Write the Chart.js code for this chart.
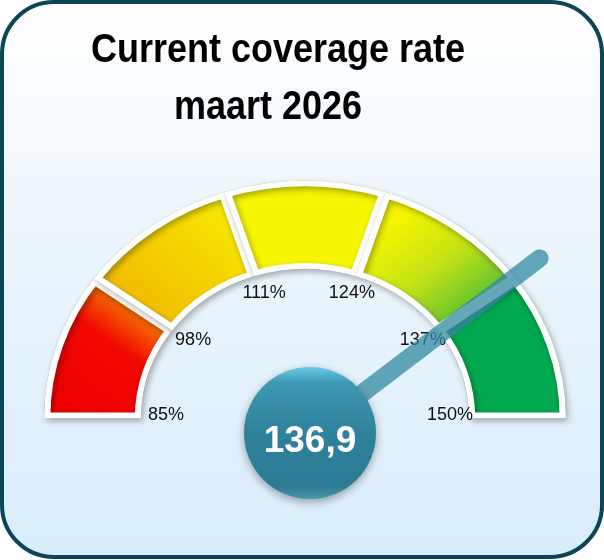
<!DOCTYPE html>
<html>
<head>
<meta charset="utf-8">
<script src="https://cdn.jsdelivr.net/npm/chart.js@4.4.1/dist/chart.umd.min.js"></script>
<style>
  html, body { margin: 0; padding: 0; background: #fff; }
  #wrap { width: 604px; height: 560px; position: relative; }
</style>
</head>
<body>
<div id="wrap"><canvas id="gauge"></canvas></div>
<script>
// Gegevens
const titleLines = ['Current coverage rate', 'maart 2026'];
const tickValues = [85, 98, 111, 124, 137, 150];
const tickLabels = ['85%', '98%', '111%', '124%', '137%', '150%'];
const currentValue = 136.9;
const currentLabel = '136,9';

// segment breedtes uit de grenswaarden
const segmentSizes = tickValues.slice(1).map((v, i) => v - tickValues[i]);

// Vorm en stijl
const SQUASH = 0.91;         // meter is iets platter dan een cirkel
const FONT = '"Liberation Sans", Arial, sans-serif';

function segmentFill(c) {
    const g = c.chart.ctx;
    let grad;
    switch (c.dataIndex) {
        case 0:
            grad = g.createLinearGradient(70, 410, 165, 290);
            grad.addColorStop(0, '#ee0000');
            grad.addColorStop(0.55, '#f20800');
            grad.addColorStop(1, '#f8b000');
            return grad;
        case 1:
            grad = g.createLinearGradient(120, 330, 240, 200);
            grad.addColorStop(0, '#f0b000');
            grad.addColorStop(1, '#f7e800');
            return grad;
        case 2:
            return '#f6f600';
        case 3:
            grad = g.createLinearGradient(390, 205, 495, 330);
            grad.addColorStop(0, '#f6f600');
            grad.addColorStop(0.4, '#c4e314');
            grad.addColorStop(1, '#1fac47');
            return grad;
        default:
            return '#00a94f';
    }
}

// Achtergrond, kader en titel
const framePlugin = {
    id: 'frame',
    beforeDraw(chart) {
        const ctx = chart.ctx;
        ctx.save();
        const bg = ctx.createLinearGradient(0, 0, 0, 560);
        bg.addColorStop(0, '#ffffff');
        bg.addColorStop(0.45, '#ebf5fc');
        bg.addColorStop(1, '#d8edfa');
        ctx.beginPath();
        ctx.roundRect(2, 2, 600, 555, 52);
        ctx.fillStyle = bg;
        ctx.fill();
        ctx.lineWidth = 4;
        ctx.strokeStyle = '#0b4557';
        ctx.stroke();

        ctx.fillStyle = '#000';
        ctx.font = 'bold 36px ' + FONT;
        ctx.textAlign = 'center';
        ctx.textBaseline = 'alphabetic';
        const pos = [[278, 62], [268, 119]];
        titleLines.forEach((t, i) => {
            ctx.save();
            ctx.translate(pos[i][0], pos[i][1]);
            ctx.scale(1, 1.12);
            ctx.fillText(t, 0, 0);
            ctx.restore();
        });
        ctx.restore();
    }
};

// Meter plat drukken + schaduw
const squashPlugin = {
    id: 'squash',
    beforeDatasetsDraw(chart) {
        const arc = chart.getDatasetMeta(0).data[0];
        const ctx = chart.ctx;
        ctx.save();
        ctx.translate(arc.x, arc.y);
        ctx.scale(1, SQUASH);
        ctx.translate(-arc.x, -arc.y);
        ctx.shadowColor = 'rgba(0,0,0,0.32)';
        ctx.shadowBlur = 6;
        ctx.shadowOffsetX = 2;
        ctx.shadowOffsetY = 3;
    },
    afterDatasetsDraw(chart) {
        chart.ctx.restore();
    }
};

// Labels, wijzer en knop
const needlePlugin = {
    id: 'needle',
    afterDatasetsDraw(chart) {
        const ctx = chart.ctx;
        const arcs = chart.getDatasetMeta(0).data;
        const cx = arcs[0].x, cy = arcs[0].y;
        const R = arcs[0].outerRadius;
        const min = tickValues[0], max = tickValues[tickValues.length - 1];
        const angleOf = v => Math.PI + (v - min) / (max - min) * Math.PI;

        ctx.save();
        ctx.fillStyle = '#111';
        ctx.font = '18px ' + FONT;
        ctx.textAlign = 'center';
        ctx.textBaseline = 'middle';
        tickValues.forEach((v, i) => {
            const a = angleOf(v);
            const x = cx + 3 + 142 * Math.cos(a);
            const y = cy - 3 + 128 * Math.sin(a);
            ctx.fillText(tickLabels[i], x, y);
        });

        // wijzer
        const a = angleOf(currentValue);
        const kx = cx + 5, ky = cy + 15;
        const tx = cx + (R + 30) * Math.cos(a);
        const ty = cy + (R + 30) * Math.sin(a) * SQUASH - 3;
        ctx.beginPath();
        ctx.moveTo(kx, ky);
        ctx.lineTo(tx, ty);
        ctx.lineCap = 'round';
        ctx.lineWidth = 18;
        ctx.strokeStyle = 'rgba(52,138,163,0.75)';
        ctx.stroke();

        // knop
        const r = 66;
        ctx.save();
        ctx.shadowColor = 'rgba(0,0,0,0.35)';
        ctx.shadowBlur = 8;
        ctx.shadowOffsetY = 3;
        const knob = ctx.createLinearGradient(0, ky - r, 0, ky + r);
        knob.addColorStop(0, '#6ccbe7');
        knob.addColorStop(0.12, '#3d98b3');
        knob.addColorStop(0.5, '#2f829c');
        knob.addColorStop(0.9, '#2c7a93');
        knob.addColorStop(1, '#4a97ad');
        ctx.beginPath();
        ctx.arc(kx, ky, r, 0, Math.PI * 2);
        ctx.fillStyle = knob;
        ctx.fill();
        ctx.restore();

        ctx.fillStyle = '#fff';
        ctx.font = 'bold 37px ' + FONT;
        ctx.textBaseline = 'alphabetic';
        ctx.fillText(currentLabel, kx, ky + 19);
        ctx.restore();
    }
};

new Chart(document.getElementById('gauge'), {
    type: 'doughnut',
    data: {
        labels: tickLabels.slice(1),
        datasets: [{
            data: segmentSizes,
            backgroundColor: segmentFill,
            borderColor: '#ffffff',
            borderWidth: 6,
            borderAlign: 'inner',
            borderJoinStyle: 'miter'
        }]
    },
    options: {
        responsive: true,
        maintainAspectRatio: false,
        animation: false,
        rotation: -90,
        circumference: 180,
        radius: 261,
        cutout: '62.8%',
        layout: { padding: { left: 6, right: 0, top: 180, bottom: 165 } },
        plugins: {
            legend: { display: false },
            tooltip: { enabled: false }
        }
    },
    plugins: [framePlugin, squashPlugin, needlePlugin]
});
</script>
</body>
</html>
